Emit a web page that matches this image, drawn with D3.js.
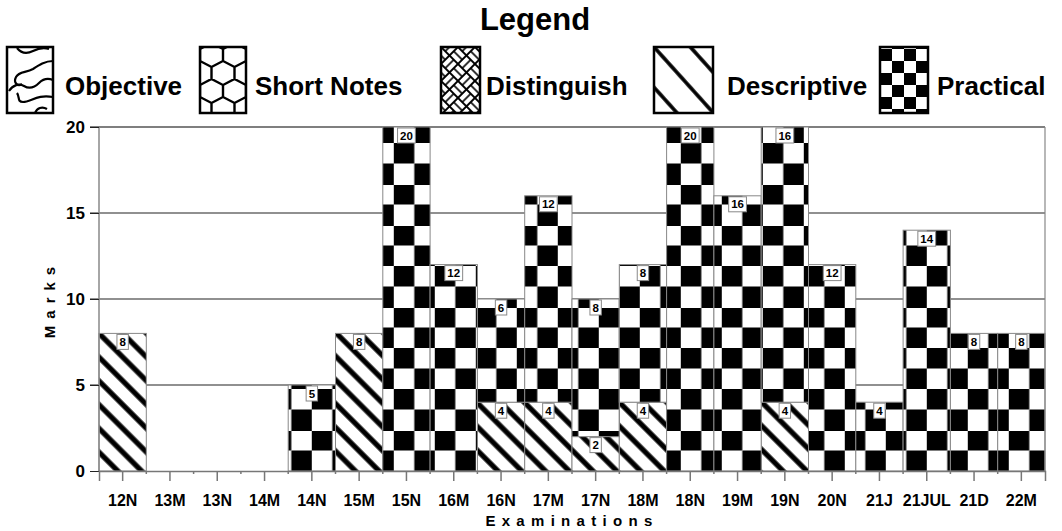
<!DOCTYPE html>
<html>
<head>
<meta charset="utf-8">
<script src="https://cdn.jsdelivr.net/npm/d3@7"></script>
<style>
  body { margin: 0; background: #fff; }
  text { font-family: "Liberation Sans", Arial, Helvetica, sans-serif; font-weight: bold; fill: #000; }
</style>
</head>
<body>
<svg width="1062" height="531"></svg>
<script>
// exam sessions on the x axis
var categories = ["12N", "13M", "13N", "14M", "14N", "15M", "15N", "16M", "16N", "17M",
                  "17N", "18M", "18N", "19M", "19N", "20N", "21J", "21JUL", "21D", "22M"];

// marks per question type, one value per exam
var objective   = [0, 0, 0, 0, 0, 0, 0, 0, 0, 0, 0, 0, 0, 0, 0, 0, 0, 0, 0, 0];
var shortNotes  = [0, 0, 0, 0, 0, 0, 0, 0, 0, 0, 0, 0, 0, 0, 0, 0, 0, 0, 0, 0];
var distinguish = [0, 0, 0, 0, 0, 0, 0, 0, 0, 0, 0, 0, 0, 0, 0, 0, 0, 0, 0, 0];
var descriptive = [8, 0, 0, 0, 0, 8, 0, 0, 4, 4, 2, 4, 0, 0, 4, 0, 0, 0, 0, 0];
var practical   = [0, 0, 0, 0, 5, 0, 20, 12, 6, 12, 8, 8, 20, 16, 16, 12, 4, 14, 8, 8];

var seriesNames = ["Objective", "Short Notes", "Distinguish", "Descriptive", "Practical"];
var yTicks = [0, 5, 10, 15, 20];

var svg = d3.select("svg"),
    width = +svg.attr("width"),
    height = +svg.attr("height");

var margin = {left: 99, right: 17, top: 127, bottom: 60};

var x = d3.scaleBand()
    .domain(categories)
    .range([margin.left, width - margin.right])
    .padding(0);

var y = d3.scaleLinear()
    .domain([0, 20])
    .range([height - margin.bottom, margin.top]);

// build rows for d3.stack from the arrays
var seriesData = [objective, shortNotes, distinguish, descriptive, practical];
var rows = categories.map(function(c, i) {
  var r = {exam: c};
  seriesNames.forEach(function(s, j) { r[s] = seriesData[j][i]; });
  return r;
});
var stacked = d3.stack().keys(seriesNames)(rows);

var defs = svg.append("defs");

// ---- patterns used in the bars ----
var sq = 20.5;
var checker = defs.append("pattern")
    .attr("id", "pat-practical")
    .attr("patternUnits", "userSpaceOnUse")
    .attr("x", x("15N") + 11).attr("y", y(0) - 16 * sq)
    .attr("width", sq * 2).attr("height", sq * 2);
checker.append("rect").attr("width", sq * 2).attr("height", sq * 2).attr("fill", "#fff");
checker.append("rect").attr("width", sq).attr("height", sq).attr("fill", "#000");
checker.append("rect").attr("x", sq).attr("y", sq).attr("width", sq).attr("height", sq).attr("fill", "#000");

var stripeGap = 16.8;
var stripes = defs.append("pattern")
    .attr("id", "pat-descriptive")
    .attr("patternUnits", "userSpaceOnUse")
    .attr("width", 20).attr("height", stripeGap)
    .attr("patternTransform", "translate(" + margin.left + "," + y(8) + ") rotate(45)");
stripes.append("rect").attr("width", 20).attr("height", stripeGap).attr("fill", "#fff");
stripes.append("rect").attr("width", 20).attr("height", 2.6).attr("fill", "#000");
stripes.append("rect").attr("y", stripeGap - 2.6).attr("width", 20).attr("height", 2.6).attr("fill", "#000");

// ---- legend ----
var legendItems = [
  {name: "Objective",   sx: 7,   sw: 46, tx: 65},
  {name: "Short Notes", sx: 200, sw: 46, tx: 255},
  {name: "Distinguish", sx: 441, sw: 39, tx: 486},
  {name: "Descriptive", sx: 654, sw: 59, tx: 727},
  {name: "Practical",   sx: 880, sw: 48, tx: 937}
];
var swTop = 47, swH = 66;

// objective: wavy lines
var pObj = defs.append("pattern").attr("id", "leg-objective")
    .attr("patternUnits", "userSpaceOnUse")
    .attr("x", legendItems[0].sx).attr("y", swTop)
    .attr("width", 46).attr("height", 66);
pObj.append("rect").attr("width", 46).attr("height", 66).attr("fill", "#fff");
pObj.selectAll("path")
  .data(["M10,1 C14,6 20,7 26,4 S36,0 42,2",
         "M46,14 C38,14 32,18 26,22 C19,26 12,24 9,30 C6,36 11,40 15,37",
         "M2,44 C6,38 12,36 17,39 C22,42 27,41 32,36 C36,32 41,31 46,33",
         "M10,46 C13,50 10,55 16,55 C24,55 30,47 46,50",
         "M28,66 C30,61 35,59 40,62"])
  .enter().append("path")
  .attr("d", function(d) { return d; })
  .attr("fill", "none").attr("stroke", "#000").attr("stroke-width", 2.2);

// short notes: honeycomb
var hw = 23, hr = 12;
var pHex = defs.append("pattern").attr("id", "leg-shortnotes")
    .attr("patternUnits", "userSpaceOnUse")
    .attr("x", legendItems[1].sx).attr("y", swTop - 4)
    .attr("width", hw).attr("height", hr * 3);
pHex.append("rect").attr("width", hw).attr("height", hr * 3).attr("fill", "#fff");
pHex.append("path")
  .attr("d", "M" + hw / 2 + ",0 L" + hw + "," + hr / 2 + " L" + hw + "," + hr * 1.5 +
        " L" + hw / 2 + "," + hr * 2 + " L0," + hr * 1.5 + " L0," + hr / 2 + "Z" +
        " M" + hw / 2 + "," + hr * 2 + " L" + hw / 2 + "," + hr * 3)
  .attr("fill", "none").attr("stroke", "#000").attr("stroke-width", 2.4);

// distinguish: basket weave
var bw = 12;
var pWeave = defs.append("pattern").attr("id", "leg-distinguish")
    .attr("patternUnits", "userSpaceOnUse")
    .attr("width", bw * 2).attr("height", bw * 2)
    .attr("patternTransform", "translate(" + legendItems[2].sx + "," + swTop + ") rotate(45)");
pWeave.append("rect").attr("width", bw * 2).attr("height", bw * 2).attr("fill", "#000");
[[0, 0, "h"], [bw, 0, "v"], [0, bw, "v"], [bw, bw, "h"]].forEach(function(c) {
  if (c[2] === "h") {
    pWeave.append("rect").attr("x", c[0] + 1).attr("y", c[1] + 1).attr("width", bw - 2).attr("height", 4.2).attr("fill", "#fff");
    pWeave.append("rect").attr("x", c[0] + 1).attr("y", c[1] + 6.8).attr("width", bw - 2).attr("height", 4.2).attr("fill", "#fff");
  } else {
    pWeave.append("rect").attr("y", c[1] + 1).attr("x", c[0] + 1).attr("height", bw - 2).attr("width", 4.2).attr("fill", "#fff");
    pWeave.append("rect").attr("y", c[1] + 1).attr("x", c[0] + 6.8).attr("height", bw - 2).attr("width", 4.2).attr("fill", "#fff");
  }
});

// descriptive: wide stripes
var lgGap = 27;
var pDesc = defs.append("pattern").attr("id", "leg-descriptive")
    .attr("patternUnits", "userSpaceOnUse")
    .attr("width", 20).attr("height", lgGap)
    .attr("patternTransform", "translate(" + legendItems[3].sx + "," + swTop + ") rotate(48)");
pDesc.append("rect").attr("width", 20).attr("height", lgGap).attr("fill", "#fff");
pDesc.append("rect").attr("width", 20).attr("height", 1.8).attr("fill", "#000");
pDesc.append("rect").attr("y", lgGap - 1.8).attr("width", 20).attr("height", 1.8).attr("fill", "#000");

// practical: small checker
var lsq = 12;
var pChk = defs.append("pattern").attr("id", "leg-practical")
    .attr("patternUnits", "userSpaceOnUse")
    .attr("x", legendItems[4].sx).attr("y", swTop + 2)
    .attr("width", lsq * 2).attr("height", lsq * 2);
pChk.append("rect").attr("width", lsq * 2).attr("height", lsq * 2).attr("fill", "#fff");
pChk.append("rect").attr("width", lsq).attr("height", lsq).attr("fill", "#000");
pChk.append("rect").attr("x", lsq).attr("y", lsq).attr("width", lsq).attr("height", lsq).attr("fill", "#000");

var legendFill = {
  "Objective": "url(#leg-objective)",
  "Short Notes": "url(#leg-shortnotes)",
  "Distinguish": "url(#leg-distinguish)",
  "Descriptive": "url(#leg-descriptive)",
  "Practical": "url(#leg-practical)"
};
var barFill = {
  "Descriptive": "url(#pat-descriptive)",
  "Practical": "url(#pat-practical)",
  "Objective": "url(#leg-objective)",
  "Short Notes": "url(#leg-shortnotes)",
  "Distinguish": "url(#leg-distinguish)"
};

svg.append("text")
    .attr("x", 535).attr("y", 30)
    .attr("text-anchor", "middle")
    .style("font-size", "31px")
    .text("Legend");

var legend = svg.append("g").attr("class", "legend")
  .selectAll("g")
  .data(legendItems)
  .enter().append("g");

legend.append("rect")
    .attr("x", function(d) { return d.sx; })
    .attr("y", swTop)
    .attr("width", function(d) { return d.sw; })
    .attr("height", swH)
    .attr("fill", function(d) { return legendFill[d.name]; })
    .attr("stroke", "#000")
    .attr("stroke-width", 2.5);

legend.append("text")
    .attr("x", function(d) { return d.tx; })
    .attr("y", 95)
    .style("font-size", "26px")
    .text(function(d) { return d.name; });

// ---- grid and axes ----
svg.append("g")
    .attr("class", "grid")
  .selectAll("line")
  .data(yTicks.filter(function(t) { return t > 0; }))
  .enter().append("line")
    .attr("x1", margin.left - 9)
    .attr("x2", width - margin.right)
    .attr("y1", function(d) { return y(d); })
    .attr("y2", function(d) { return y(d); })
    .attr("stroke", function(d) { return d === 20 ? "#000" : "#222"; })
    .attr("stroke-width", 1.2);

// ---- bars ----
var layer = svg.append("g")
    .attr("class", "bars")
  .selectAll("g")
  .data(stacked)
  .enter().append("g");

layer.selectAll("rect")
  .data(function(d) { return d.filter(function(s) { return s[1] > s[0]; }); })
  .enter().append("rect")
    .attr("x", function(d) { return x(d.data.exam); })
    .attr("y", function(d) { return y(d[1]); })
    .attr("width", x.bandwidth())
    .attr("height", function(d) { return y(d[0]) - y(d[1]); })
    .attr("fill", function() { return barFill[d3.select(this.parentNode).datum().key]; })
    .attr("stroke", "#888")
    .attr("stroke-width", 1);

// value labels at the top of each segment
var labels = svg.append("g").attr("class", "labels");
stacked.forEach(function(s) {
  s.forEach(function(d) {
    var v = d[1] - d[0];
    if (v <= 0) return;
    var g = labels.append("g");
    var t = g.append("text")
        .attr("x", x(d.data.exam) + x.bandwidth() / 2)
        .attr("y", y(d[1]) + 12.5)
        .attr("text-anchor", "middle")
        .style("font-size", "11.5px")
        .text(v);
    var w = t.node().getComputedTextLength();
    g.insert("rect", "text")
        .attr("x", x(d.data.exam) + x.bandwidth() / 2 - w / 2 - 2.5)
        .attr("y", y(d[1]) + 1)
        .attr("width", w + 5)
        .attr("height", 15)
        .attr("fill", "#fff")
        .attr("stroke", "#888")
        .attr("stroke-width", 1);
  });
});

// plot frame
svg.append("line")
    .attr("x1", margin.left).attr("x2", margin.left)
    .attr("y1", y(20)).attr("y2", y(0))
    .attr("stroke", "#888").attr("stroke-width", 1.5);
svg.append("line")
    .attr("x1", width - margin.right).attr("x2", width - margin.right)
    .attr("y1", y(20)).attr("y2", y(0))
    .attr("stroke", "#888").attr("stroke-width", 1.2);

// y axis labels + ticks
var yAxis = svg.append("g")
    .attr("transform", "translate(" + margin.left + ",0)")
    .call(d3.axisLeft(y).tickValues(yTicks).tickSize(9).tickPadding(5));
yAxis.select(".domain").remove();
yAxis.selectAll(".tick line").attr("stroke", "#222");
yAxis.selectAll(".tick text")
    .style("font-size", "17px")
    .style("font-family", "'Liberation Sans', Arial, sans-serif")
    .style("font-weight", "bold");

// x axis
var xAxis = svg.append("g")
    .attr("transform", "translate(0," + y(0) + ")")
    .call(d3.axisBottom(x).tickSize(10).tickPadding(14));
xAxis.select(".domain").attr("stroke", "#777").attr("stroke-width", 1.5);
xAxis.selectAll(".tick line").attr("stroke", "#777").attr("stroke-width", 1.5);
xAxis.selectAll(".tick text")
    .style("font-size", "16px")
    .style("font-family", "'Liberation Sans', Arial, sans-serif")
    .style("font-weight", "bold");

// small ticks between bands
svg.append("g")
  .selectAll("line")
  .data(categories.slice(1))
  .enter().append("line")
    .attr("x1", function(d) { return x(d); })
    .attr("x2", function(d) { return x(d); })
    .attr("y1", y(0)).attr("y2", y(0) + 3)
    .attr("stroke", "#777").attr("stroke-width", 1.5);

// axis titles
svg.append("text")
    .attr("x", (margin.left + width - margin.right) / 2)
    .attr("y", 526)
    .attr("text-anchor", "middle")
    .style("font-size", "15px")
    .style("letter-spacing", "6.3px")
    .text("Examinations");

svg.append("text")
    .attr("transform", "translate(55," + (y(0) + y(20)) / 2 + ") rotate(-90)")
    .attr("text-anchor", "middle")
    .style("font-size", "15px")
    .style("letter-spacing", "7px")
    .text("Marks");
</script>
</body>
</html>
